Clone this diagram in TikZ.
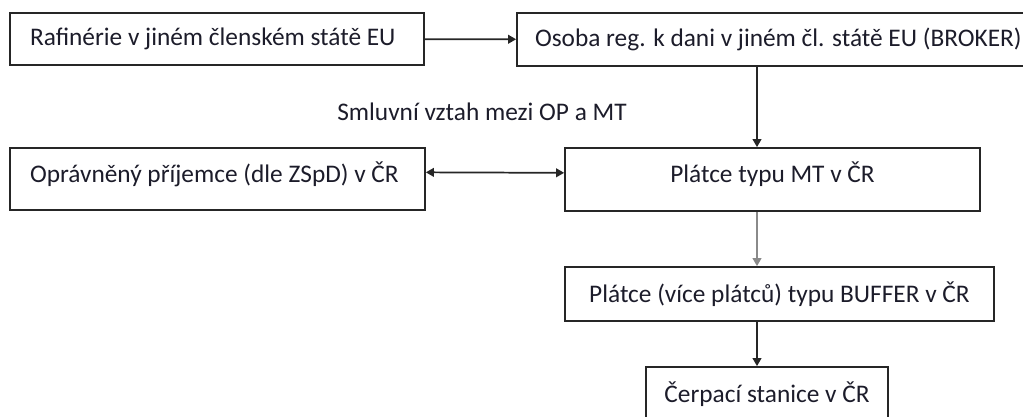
\documentclass[tikz,border=0pt]{standalone}
\usepackage{fontspec}
\setmainfont{Carlito}
\usetikzlibrary{arrows.meta}
\definecolor{cernaCara}{HTML}{262626}
\definecolor{sedaCara}{HTML}{8A8A8A}
\definecolor{textBarva}{HTML}{1C1C2A}

\begin{document}
\begin{tikzpicture}[x=0.75pt,y=-0.75pt,
  box/.style={draw=cernaCara,line width=1.3pt,text=textBarva,
    font=\fontsize{19}{22}\selectfont},
  vlevo/.style={align=flush left,inner xsep=15pt},
  nahoru/.style={text depth=11pt},
  sipka/.style={-{Triangle[length=6pt,width=6.5pt]},line width=1.3pt,cernaCara}]
\useasboundingbox (0,0) rectangle (1023,417);
% boxes
\node[box,vlevo,text width=280.5pt,minimum height=39pt] (rafinerie) at (217,39)
  {\mbox{Rafinérie v jiném členském státě EU}};
\node[box,vlevo,inner xsep=13.5pt,text width=354.75pt,minimum height=39.75pt] (broker) at (771.5,39.5)
  {\mbox{Osoba reg. k dani v jiném čl. státě EU (BROKER)}};
\node[box,vlevo,nahoru,text width=281.25pt,minimum height=46.5pt] (opravneny) at (217.5,179)
  {\mbox{Oprávněný příjemce (dle ZSpD) v ČR}};
\node[box,nahoru,minimum width=311.25pt,minimum height=47.25pt] (platceMT) at (772.5,179.5)
  {Plátce typu MT v ČR};
\node[box,minimum width=321.75pt,minimum height=40.5pt] (buffer) at (779.5,294)
  {Plátce (více plátců) typu BUFFER v ČR};
\node[box,minimum width=181.5pt,minimum height=41.25pt] (cerpaci) at (767,394.5)
  {Čerpací stanice v ČR};
\node[text=textBarva,font=\fontsize{19}{22}\selectfont] (smluva) at (482,112)
  {Smluvní vztah mezi OP a MT};
% arrows
\coordinate (osa) at (757,0);
\draw[sipka] (rafinerie) -- (broker);
\draw[sipka] (broker.south -| osa) -- (platceMT.north -| osa);
\draw[sipka,{Triangle[length=6pt,width=6.5pt]}-{Triangle[length=6pt,width=6.5pt]}]
  ([yshift=5pt]opravneny.east) -- ([yshift=5pt]platceMT.west);
\draw[sipka,sedaCara] (platceMT.south -| osa) -- (buffer.north -| osa);
\draw[sipka] (buffer.south -| osa) -- (cerpaci.north -| osa);
\end{tikzpicture}
\end{document}
